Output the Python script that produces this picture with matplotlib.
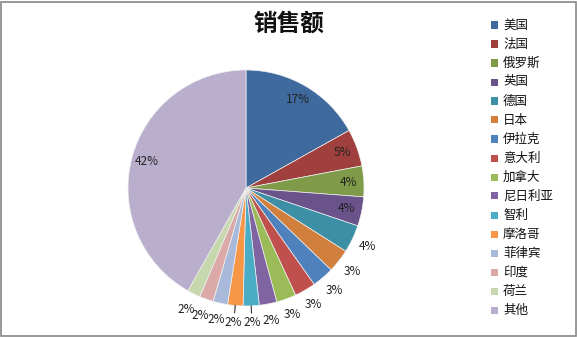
import numpy as np
import matplotlib
matplotlib.use("Agg")
import matplotlib.pyplot as plt

plt.rcParams['font.family'] = ['Noto Sans CJK SC', 'DejaVu Sans']

# sales share per country (percent)
countries = ['美国', '法国', '俄罗斯', '英国', '德国', '日本', '伊拉克', '意大利',
             '加拿大', '尼日利亚', '智利', '摩洛哥', '菲律宾', '印度', '荷兰', '其他']
sales = [16.9, 5.1, 4.2, 4.0, 3.8, 3.2, 3.0, 2.9,
         2.7, 2.4, 2.2, 2.1, 2.0, 1.9, 1.8, 41.8]
colors = ['#3E6A9E', '#A0403E', '#7F9A48', '#6A528A', '#3D8FA5', '#D17F3C',
          '#4F81BD', '#C0504D', '#9BBB59', '#8064A2', '#4BACC6', '#F79646',
          '#A9B9DA', '#DBA9A8', '#C7D8AE', '#B9AECC']

# which labels sit inside the pie, which get a leader line
inside = {0, 1, 2, 3, 15}
leader = {10, 11}

W, H = 577, 337
fig = plt.figure(figsize=(W / 100, H / 100), dpi=100)
fig.patch.set_facecolor('white')

# chart border
border = plt.Rectangle((0.5 / W, 1.5 / H), 575 / W, 334 / H, transform=fig.transFigure,
                       fill=False, edgecolor='#888888', linewidth=1.2)
fig.add_artist(border)

cx, cy, R = 246, 188, 118
ax = fig.add_axes([(cx - R) / W, (H - cy - R) / H, 2 * R / W, 2 * R / H])
wedges, _ = ax.pie(sales, colors=colors, startangle=90, counterclock=False,
                   wedgeprops=dict(edgecolor='#f0f0f0', linewidth=0.5))
ax.set_xlim(-1, 1)
ax.set_ylim(-1, 1)
ax.axis('off')

total = sum(sales)
for i, w in enumerate(wedges):
    ang = np.deg2rad((w.theta1 + w.theta2) / 2)
    r = 0.87 if i in inside else 1.145
    x, y = r * np.cos(ang), r * np.sin(ang)
    ax.text(x, y, f"{round(sales[i] / total * 100):.0f}%", ha='center', va='center',
            fontsize=8.5, color='#222222', clip_on=False)
    if i in leader:
        ax.plot([1.0 * np.cos(ang), 1.06 * np.cos(ang)],
                [1.0 * np.sin(ang), 1.06 * np.sin(ang)],
                color='#333333', linewidth=0.8, clip_on=False)

fig.text(289 / W, 1 - 24 / H, '销售额', ha='center', va='center',
         fontsize=17, fontweight='bold', color='#111111')

# legend
y0, dy = 25, 19
for i, name in enumerate(countries):
    y = y0 + i * dy
    fig.add_artist(plt.Rectangle((491 / W, 1 - (y + 3.5) / H), 7 / W, 7 / H,
                                 transform=fig.transFigure, facecolor=colors[i],
                                 edgecolor='none'))
    fig.text(503 / W, 1 - y / H, name, ha='left', va='center', fontsize=9,
             color='#111111')

fig.savefig('out.png', dpi=100)
